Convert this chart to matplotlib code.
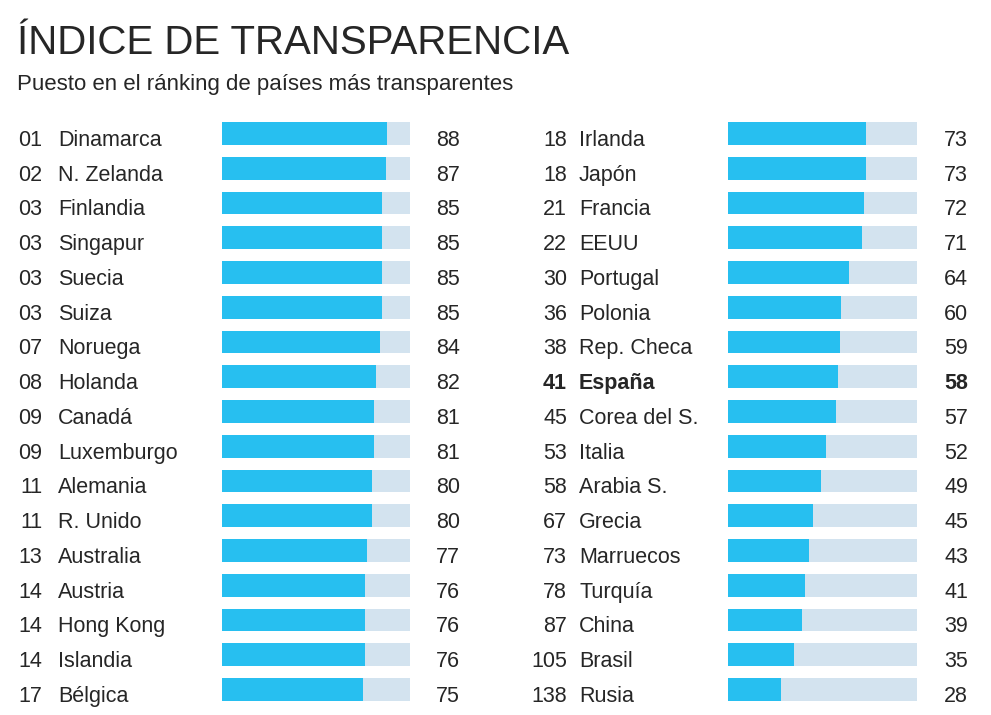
import matplotlib.pyplot as plt

plt.rcParams['font.family'] = ['Liberation Sans', 'DejaVu Sans']

BLUE = '#27bff0'
TRACK = '#d3e3ef'
INK = '#262626'

left_ranks = ['01', '02', '03', '03', '03', '03', '07', '08', '09', '09', '11', '11', '13', '14', '14', '14', '17']
left_names = ['Dinamarca', 'N. Zelanda', 'Finlandia', 'Singapur', 'Suecia', 'Suiza', 'Noruega', 'Holanda',
              'Canadá', 'Luxemburgo', 'Alemania', 'R. Unido', 'Australia', 'Austria', 'Hong Kong',
              'Islandia', 'Bélgica']
left_scores = [88, 87, 85, 85, 85, 85, 84, 82, 81, 81, 80, 80, 77, 76, 76, 76, 75]

right_ranks = ['18', '18', '21', '22', '30', '36', '38', '41', '45', '53', '58', '67', '73', '78', '87', '105', '138']
right_names = ['Irlanda', 'Japón', 'Francia', 'EEUU', 'Portugal', 'Polonia', 'Rep. Checa', 'España',
               'Corea del S.', 'Italia', 'Arabia S.', 'Grecia', 'Marruecos', 'Turquía', 'China',
               'Brasil', 'Rusia']
right_scores = [73, 73, 72, 71, 64, 60, 59, 58, 57, 52, 49, 45, 43, 41, 39, 35, 28]

highlight = 'España'
max_score = 100

W, H = 991, 715
fig = plt.figure(figsize=(W / 100, H / 100), dpi=100)
fig.patch.set_facecolor('white')

row0, row_step = 133.5, 34.75
n = len(left_names)
top_px = row0 - row_step / 2
bot_px = row0 + row_step * (n - 0.5)
FS = 15.5


def panel(x0, x1, rank_right, name_left, val_right, ranks, names, scores):
    ax = fig.add_axes([x0 / W, 1 - bot_px / H, (x1 - x0) / W, (bot_px - top_px) / H])
    ax.set_xlim(0, max_score)
    ax.set_ylim(n - 0.5, -0.5)
    ax.axis('off')
    ys = list(range(n))
    ax.barh(ys, [max_score] * n, height=0.66, color=TRACK, linewidth=0)
    ax.barh(ys, scores, height=0.66, color=BLUE, linewidth=0)
    tr = ax.get_yaxis_transform()
    w = x1 - x0
    for y, r, nm, s in zip(ys, ranks, names, scores):
        wt = 'bold' if nm == highlight else 'normal'
        ty = y + 0.2
        ax.text((rank_right - x0) / w, ty, r, transform=tr, ha='right', va='center',
                fontsize=FS, color=INK, weight=wt, clip_on=False)
        ax.text((name_left - x0) / w, ty, nm, transform=tr, ha='left', va='center',
                fontsize=FS, color=INK, weight=wt, clip_on=False)
        ax.text((val_right - x0) / w, ty, str(s), transform=tr, ha='right', va='center',
                fontsize=FS, color=INK, weight=wt, clip_on=False)


panel(222, 410, 42, 58, 460, left_ranks, left_names, left_scores)
panel(728, 917, 567, 579, 968, right_ranks, right_names, right_scores)

fig.text(17 / W, 1 - 54 / H, 'ÍNDICE DE TRANSPARENCIA', fontsize=29, color=INK, ha='left', va='baseline')
fig.text(17 / W, 1 - 90 / H, 'Puesto en el ránking de países más transparentes', fontsize=16,
         color=INK, ha='left', va='baseline')

fig.savefig('out.png', dpi=100, facecolor='white')
